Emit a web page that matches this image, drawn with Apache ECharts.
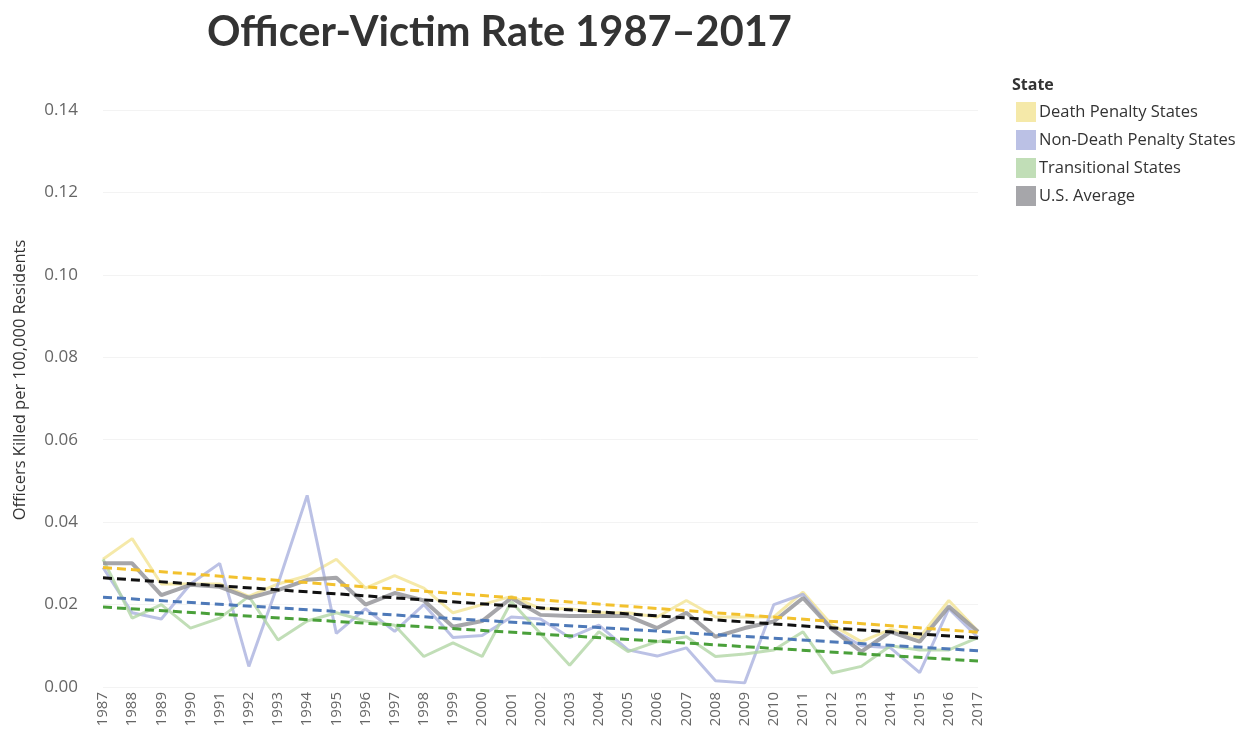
<!DOCTYPE html>
<html>
<head>
<meta charset="utf-8">
<script src="https://cdn.jsdelivr.net/npm/echarts@6/dist/echarts.min.js"></script>
<style>
html,body{margin:0;padding:0;background:#fff;}
#chart{width:1248px;height:736px;}
</style>
</head>
<body>
<div id="chart"></div>
<script>
const years = ['1987','1988','1989','1990','1991','1992','1993','1994','1995','1996','1997','1998','1999','2000','2001','2002','2003','2004','2005','2006','2007','2008','2009','2010','2011','2012','2013','2014','2015','2016','2017'];

const deathPenalty = [0.031,0.036,0.025,0.025,0.025,0.022,0.025,0.027,0.031,0.024,0.027,0.024,0.018,0.020,0.022,0.019,0.019,0.018,0.018,0.017,0.021,0.017,0.017,0.017,0.023,0.015,0.011,0.014,0.012,0.021,0.0135];
const nonDeathPenalty = [0.029,0.018,0.0165,0.025,0.030,0.005,0.025,0.0465,0.013,0.019,0.0135,0.020,0.012,0.0125,0.017,0.0165,0.012,0.015,0.009,0.0075,0.0095,0.0015,0.001,0.020,0.0225,0.014,0.010,0.0095,0.0035,0.019,0.012];
const transitional = [0.031,0.0167,0.020,0.0143,0.0167,0.022,0.0114,0.016,0.018,0.016,0.015,0.0074,0.0107,0.0074,0.0207,0.013,0.0053,0.0134,0.0086,0.011,0.0122,0.0074,0.008,0.009,0.0134,0.0034,0.005,0.010,0.009,0.009,0.012];
const usAverage = [0.030,0.030,0.0223,0.0248,0.0243,0.0216,0.0235,0.026,0.0265,0.020,0.0228,0.021,0.0146,0.016,0.0216,0.0175,0.0172,0.0172,0.0172,0.0143,0.018,0.0122,0.0143,0.0159,0.0216,0.014,0.0086,0.0134,0.011,0.0195,0.0134];

// trend line endpoints (1987, 2017)
const trendDeath = [0.029, 0.0133];
const trendUS = [0.0265, 0.0119];
const trendNonDeath = [0.0218, 0.0088];
const trendTransitional = [0.0194, 0.0063];

const yTicks = [0, 0.02, 0.04, 0.06, 0.08, 0.10, 0.12, 0.14];

const chart = echarts.init(document.getElementById('chart'));
const first = years[0], last = years[years.length - 1];
function trend(name, vals, color) {
  return {
    name: name, type: 'line', symbol: 'none', silent: true, z: 5,
    data: [[first, vals[0]], [last, vals[1]]],
    lineStyle: { color: color, width: 3, type: [9, 5] }
  };
}
function solid(name, data, color, width) {
  return {
    name: name, type: 'line', symbol: 'none', data: data, z: 2,
    itemStyle: { color: color },
    lineStyle: { color: color, width: width }
  };
}

chart.setOption({
  animation: false,
  backgroundColor: '#ffffff',
  title: [{
    text: 'Officer-Victim Rate 1987–2017',
    left: 202, top: 7,
    textStyle: { fontFamily: 'Lato', fontWeight: 'bold', fontSize: 41.5, color: '#333333' }
  }, {
    text: 'State',
    left: 1007, top: 72,
    textStyle: { fontFamily: 'Open Sans', fontWeight: 'bold', fontSize: 16, color: '#333333' }
  }],
  legend: {
    orient: 'vertical',
    left: 1011, top: 97,
    icon: 'rect',
    itemWidth: 20, itemHeight: 20, itemGap: 8,
    textStyle: { fontFamily: 'Open Sans', fontSize: 16.5, color: '#333333', padding: [0, 0, 0, -2] },
    data: ['Death Penalty States', 'Non-Death Penalty States', 'Transitional States', 'U.S. Average']
  },
  graphic: [{
    type: 'text',
    x: 12, y: 380, rotation: Math.PI / 2,
    style: {
      text: 'Officers Killed per 100,000 Residents',
      fontFamily: 'Open Sans', fontSize: 16.5, fill: '#333333',
      align: 'center', verticalAlign: 'top'
    }
  }],
  grid: { left: 103, right: 270, top: 110, bottom: 49, containLabel: false },
  xAxis: {
    type: 'category',
    data: years,
    boundaryGap: false,
    axisLine: { show: false },
    axisTick: { show: false },
    axisLabel: { rotate: 90, fontFamily: 'Open Sans', fontSize: 15, color: '#666666', margin: 5 },
    splitLine: { show: false }
  },
  yAxis: {
    type: 'value',
    min: yTicks[0], max: yTicks[yTicks.length - 1], interval: 0.02,
    axisLine: { show: false },
    axisTick: { show: false },
    axisLabel: { fontFamily: 'Open Sans', fontSize: 17, color: '#666666', margin: 25,
      formatter: v => v.toFixed(2) },
    splitLine: { lineStyle: { color: '#f3f3f3', width: 1 } }
  },
  series: [
    solid('Death Penalty States', deathPenalty, 'rgba(242,226,140,0.75)', 3),
    solid('Non-Death Penalty States', nonDeathPenalty, 'rgba(170,178,222,0.8)', 3),
    solid('Transitional States', transitional, 'rgba(178,214,165,0.8)', 3),
    solid('U.S. Average', usAverage, 'rgba(150,150,155,0.85)', 4),
    trend('trendDeath', trendDeath, '#f2c12e'),
    trend('trendUS', trendUS, '#111111'),
    trend('trendNonDeath', trendNonDeath, '#4e79b8'),
    trend('trendTransitional', trendTransitional, '#4aa03a')
  ]
});
</script>
</body>
</html>
